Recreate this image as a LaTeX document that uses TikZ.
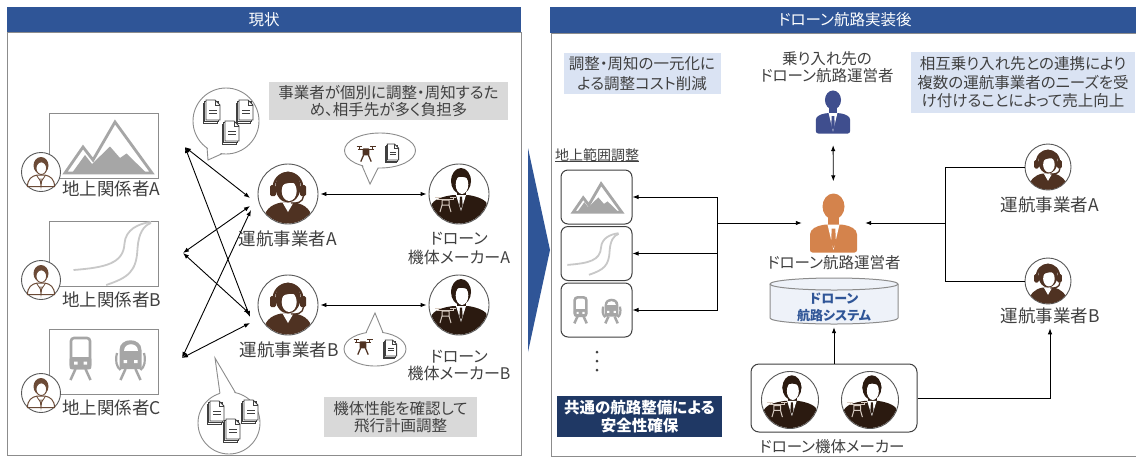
\documentclass[tikz,border=0pt]{standalone}
\usepackage{fontspec}
\setmainfont{Noto Sans CJK JP}[RawFeature={+palt}]
\usetikzlibrary{arrows.meta,calc}

\definecolor{hdr}{HTML}{2F5597}
\definecolor{txt}{HTML}{404040}
\definecolor{frm}{HTML}{8C8C8C}
\definecolor{gbox}{HTML}{D9D9D9}
\definecolor{lbox}{HTML}{DAE3F3}
\definecolor{navy}{HTML}{1F3864}
\definecolor{opbr}{HTML}{4F3222}
\definecolor{mkbr}{HTML}{2B1A10}
\definecolor{stbr}{HTML}{6B4A36}
\definecolor{icg}{HTML}{A6A6A6}
\definecolor{roadc}{HTML}{C8C8C8}
\definecolor{silO}{HTML}{D4834C}
\definecolor{silB}{HTML}{3F4E8E}
\definecolor{cylf}{HTML}{EEF2F9}
\definecolor{ringc}{HTML}{595959}
\definecolor{docl}{HTML}{404040}
\definecolor{drc}{HTML}{D8CCC2}

\newcommand\fsLbl{\fontsize{17.5}{19}\selectfont}
\newcommand\fsBox{\fontsize{15.5}{17.5}\selectfont}

\tikzset{
  lbl/.style={text=txt, font=\fsLbl, inner sep=0pt, align=center},
  notebox/.style={inner sep=0pt, align=center, text=txt, font=\fsBox},
  arr/.style={-{Latex[length=6pt,width=4.5pt]}, line width=0.9pt},
  darr/.style={{Latex[length=6pt,width=4.5pt]}-{Latex[length=6pt,width=4.5pt]}, line width=0.9pt},
  ringnode/.style={circle, draw=ringc, line width=0.9pt, fill=white, inner sep=0pt},
  bub/.style={fill=white, draw=frm, line width=0.9pt},
  frame/.style={draw=frm, line width=1pt},
  gbx/.style={draw=txt, line width=1pt, rounded corners=7pt, minimum width=71pt, minimum height=54pt, inner sep=0pt},
  % operator with headset
  opr/.pic={
    \begin{scope}
      \clip (0,0) circle (29.4);
      \fill[opbr] (-25,31) .. controls (-25,16) and (-17,10.5) .. (-7,8.5) -- (7,8.5) .. controls (17,10.5) and (25,16) .. (25,31) -- cycle;
    \end{scope}
    \fill[white] (-5.5,8.5) -- (0,18) -- (5.5,8.5) -- cycle;
    \fill[opbr] (0,-7) ellipse (12.5 and 15.5);
    \fill[white] (1.2,-3) ellipse (7.5 and 10);
    \fill[opbr] (-7,-8) .. controls (-5,-16) and (5,-17) .. (9,-10) .. controls (6,-12) and (-2,-12) .. (-7,-8) -- cycle;
    \draw[opbr, line width=2.3pt] (-14.5,-3) .. controls (-16,-27) and (16,-27) .. (14.5,-3);
    \fill[opbr, rounded corners=1.5pt] (-18,-9) rectangle (-12,2);
    \fill[opbr, rounded corners=1.5pt] (12,-9) rectangle (18,2);
    \draw[opbr, line width=1.3pt] (15.5,2) .. controls (15,8.5) and (9,9.5) .. (3,9);
  },
  % drone maker in a suit, holding a drone
  mkr/.pic={
    \begin{scope}
      \clip (0,0) circle (29.4);
      \fill[mkbr] (-28,31) -- (-28,12) .. controls (-26,5) and (-16,2.5) .. (-6,1) -- (9,1) .. controls (19,2.5) and (28,6) .. (29,12) -- (29,31) -- cycle;
    \end{scope}
    \fill[mkbr] (-2,-4) rectangle (7,2);
    \fill[white] (-3,1) -- (2,17) -- (7,1) -- cycle;
    \fill[mkbr] (1,2.5) -- (3,2.5) -- (3.6,11) -- (2,15) -- (0.4,11) -- cycle;
    \fill[mkbr] (2,-13) ellipse (10 and 13);
    \fill[white] (3,-9.5) ellipse (6.3 and 9.5);
    \fill[mkbr] (-8,-12) .. controls (-7,-28) and (12,-28) .. (12,-12) .. controls (8,-19) and (-3,-19) .. (-8,-12) -- cycle;
    \draw[drc, line width=1pt] (-22,5) -- (-5,5) (-24,3) -- (-18,3) (-9,3) -- (-3,3) (-21,3) -- (-21,5) (-6,3) -- (-6,5);
    \draw[drc, line width=1pt] (-17,6) rectangle (-10,11) (-17,11) -- (-19,18) (-10,11) -- (-8,18);
  },
  % ground-side stakeholder
  stk/.pic={
    \fill[stbr] (0,-6.5) ellipse (7.5 and 8.5);
    \fill[white] (0.3,-3.8) ellipse (5.3 and 6.3);
    \draw[stbr, line width=0.9pt] (0.3,-3.8) ellipse (5.3 and 6.3);
    \draw[stbr, line width=1pt] (-13.5,14.5) .. controls (-13.5,7) and (-9,4) .. (-4.5,3.2) -- (4.5,3.2) .. controls (9,4) and (13.5,7) .. (13.5,14.5) -- cycle;
    \draw[stbr, line width=0.8pt] (-4.5,3.2) -- (0,10) -- (4.5,3.2) (-1,6.5) -- (0,14.5) -- (1,6.5);
  },
  % stack of documents
  doc/.pic={
    \foreach \d in {3,1.5} {
      \filldraw[fill=white, draw=docl, line width=0.6pt] (-7-\d,-10+\d) rectangle (7-\d,10+\d);
    }
    \filldraw[fill=white, draw=docl, line width=0.9pt] (-7,-10) -- (2,-10) -- (7,-5) -- (7,10) -- (-7,10) -- cycle;
    \draw[docl, line width=0.7pt] (2,-10) -- (2,-5) -- (7,-5);
    \draw[docl, line width=0.9pt] (-4,0.5) -- (4,0.5) (-4,3.5) -- (4,3.5);
  },
  % small drone
  drone/.pic={
    \draw[opbr, line width=1.5pt] (-8,-5) -- (8,-5);
    \draw[opbr, line width=1.6pt] (-10,-8) -- (-4.5,-8) (4.5,-8) -- (10,-8);
    \draw[opbr, line width=1.2pt] (-7.2,-8) -- (-7.2,-5) (7.2,-8) -- (7.2,-5);
    \fill[opbr, rounded corners=1pt] (-3.5,-6) rectangle (3.5,1.5);
    \draw[opbr, line width=1.3pt] (-2.5,1) -- (-5.5,8) (2.5,1) -- (5.5,8);
  },
  % mountains
  mtn/.pic={
    \draw[icg, line width=2.8pt, line join=miter] (-38.5,27.5) -- (-20.5,1.5) -- (-10.5,14.5) -- (11.5,-23.5) -- (48.5,27.5) -- cycle;
    \fill[icg] (-31.5,27.5) -- (-18.5,9.5) -- (-11.5,18.5) -- (6.5,1) -- (16.5,12.5) -- (23,8) -- (43,27.5) -- cycle;
  },
  % winding road
  road/.pic={
    \draw[roadc, line width=1.8pt] (-30,16.5) .. controls (2,14) and (20,10) .. (21,-10) .. controls (22,-24) and (35,-30) .. (47.5,-31.5);
    \draw[roadc, line width=1.8pt] (2.7,31.5) .. controls (25,24) and (33,18) .. (34,-5) .. controls (35,-20) and (40,-28) .. (47.5,-30.5);
  },
  % two railway fronts
  trains/.pic={
    \begin{scope}[shift={(-23,-2.5)}]
      \draw[icg, line width=2.6pt, rounded corners=3pt] (-9.5,-21) rectangle (9.5,9);
      \fill[icg, rounded corners=2pt] (-10.8,-2) rectangle (10.8,10.3);
      \fill[white] (-6.5,2.5) rectangle (-3,5.5) (3,2.5) rectangle (6.5,5.5);
      \draw[icg, line width=2.5pt] (-5,10) -- (-10,21) (5,10) -- (10,21);
    \end{scope}
    \begin{scope}[shift={(27,-2.5)}]
      \fill[icg] (-11,10) -- (-11,-9) .. controls (-11,-22) and (11,-22) .. (11,-9) -- (11,10) -- cycle;
      \fill[white] (-7,-8) .. controls (-7,-17) and (7,-17) .. (7,-8) -- cycle;
      \draw[icg, line width=2.2pt] (-13.5,-6) .. controls (-15.5,2) and (-14,8) .. (-10,11) (13.5,-6) .. controls (15.5,2) and (14,8) .. (10,11);
      \fill[white] (-7,1) rectangle (-3.5,4) (3.5,1) rectangle (7,4);
      \draw[icg, line width=2.5pt] (-5,10) -- (-10,21) (5,10) -- (10,21);
    \end{scope}
  },
  % person silhouette, colour given by the pic options
  sil/.pic={
    \path[pic actions] (0,-16.5) ellipse (11 and 13);
    \path[pic actions] (-5.5,-6) rectangle (5.5,4);
    \path[pic actions, rounded corners=2.5pt] (-23.5,29.5) -- (-23.5,14) .. controls (-23.5,6) and (-17,3) .. (-8,1.5) -- (8,1.5) .. controls (17,3) and (23.5,6) .. (23.5,14) -- (23.5,29.5) -- cycle;
    \fill[white] (-6,1.5) -- (0,27) -- (6,1.5) -- cycle;
    \path[pic actions] (-1.8,5.5) -- (1.8,5.5) -- (2.4,20) -- (0,25) -- (-2.4,20) -- cycle;
  }
}

\begin{document}
\begin{tikzpicture}[x=1pt, y=-1pt, font=\fsBox]
\useasboundingbox (0,0) rectangle (1136,459);
\fill[white] (0,0) rectangle (1136,459);
\begin{scope}
\clip (0,0) rectangle (1136,459);

% ---------------- left panel: current situation ----------------
\draw[frame] (7,32) rectangle (521,455);
\node[fill=hdr, minimum width=514pt, minimum height=25pt, inner sep=0pt, text=white] (hdL) at (264,19.5) {現状};

\node[notebox, fill=gbox, minimum width=239pt, minimum height=38pt] (noteL1) at (388.5,101) {事業者が個別に調整・周知するた\\め、相手先が多く負担多};
\node[notebox, fill=gbox, minimum width=153pt, minimum height=40pt] (noteL2) at (400.5,417) {機体性能を確認して\\飛行計画調整};

% ground stakeholders
\node[frame, minimum width=109pt, minimum height=65pt, inner sep=0pt] (ga) at (103.5,145.5) {};
\pic at (ga.center) {mtn};
\node[frame, minimum width=109pt, minimum height=65pt, inner sep=0pt] (gb) at (103.5,253.5) {};
\pic at (gb.center) {road};
\node[frame, minimum width=109pt, minimum height=65pt, inner sep=0pt] (gc) at (103.5,361.5) {};
\pic at (gc.center) {trains};

\node[ringnode, minimum size=39pt] (pa) at (41,172) {};
\pic at (pa.center) {stk};
\node[ringnode, minimum size=39pt] (pb) at (41,280) {};
\pic at (pb.center) {stk};
\node[ringnode, minimum size=39pt] (pc) at (41,393) {};
\pic at (pc.center) {stk};
\node[lbl, anchor=west] (la) at (62,189) {地上関係者A};
\node[lbl, anchor=west] (lb) at (62,300) {地上関係者B};
\node[lbl, anchor=west] (lc) at (62,408) {地上関係者C};

% operators and makers
\node[ringnode, minimum size=60pt] (opA) at (288,194) {};
\pic at (opA.center) {opr};
\node[lbl] (opAl) at (288,239) {運航事業者A};
\node[ringnode, minimum size=60pt] (opB) at (288,305) {};
\pic at (opB.center) {opr};
\node[lbl] (opBl) at (289,350) {運航事業者B};

\node[ringnode, minimum size=60pt] (mkA) at (459,194) {};
\pic at (mkA.center) {mkr};
\node[lbl, font=\fontsize{16}{19}\selectfont] (mkAl) at (459,248.5) {ドローン\\機体メーカーA};
\node[ringnode, minimum size=60pt] (mkB) at (459,305) {};
\pic at (mkB.center) {mkr};
\node[lbl, font=\fontsize{16}{17.5}\selectfont] (mkBl) at (459,365.5) {ドローン\\機体メーカーB};

\draw[darr, shorten <=2pt, shorten >=2pt] (opA) -- (mkA);
\draw[darr, shorten <=2pt, shorten >=2pt] (opB) -- (mkB);

% many-to-many coordination
\coordinate (L1) at (185,147);
\coordinate (L2) at (183,253);
\coordinate (L3) at (182,358);
\coordinate (a1) at (250,198);
\coordinate (a2) at (250,206);
\coordinate (a3) at (251,210);
\coordinate (b1) at (250,317);
\coordinate (b2) at (250,314);
\coordinate (b3) at (250,323);
\draw[darr] (L1) -- (a1);
\draw[darr] (L1) -- (b1);
\draw[darr] (L2) -- (a2);
\draw[darr] (L2) -- (b2);
\draw[darr] (L3) -- (a3);
\draw[darr] (L3) -- (b3);

% speech bubbles
\node[bub, circle, minimum size=66pt, inner sep=0pt] (bq1) at (226,121) {};
\fill[white] ($(bq1.center)+(97:31.8)$) -- (208,160) -- ($(bq1.center)+(125:31.8)$) -- cycle;
\draw[frm, line width=0.9pt] ($(bq1.center)+(97:33)$) -- (208,160) -- ($(bq1.center)+(125:33)$);
\pic at (213,110) {doc};
\pic at (246,110) {doc};
\pic at (232,131) {doc};

\coordinate (bq2) at (380,150.5);
\draw[bub] (bq2) ellipse (35.5 and 17.5);
\fill[white] ($(bq2)+(93:34 and 16)$) -- (370,184) -- ($(bq2)+(120.5:34 and 16)$) -- cycle;
\draw[frm, line width=0.9pt] ($(bq2)+(93:35.5 and 17.5)$) -- (370,184) -- ($(bq2)+(120.5:35.5 and 17.5)$);
\pic[scale=0.95] at (366,154) {drone};
\pic[scale=0.8] at (393,152) {doc};

\coordinate (bq3) at (375,349);
\draw[bub] (bq3) ellipse (31 and 17);
\fill[white] ($(bq3)+(253:29.5 and 15.5)$) -- (375,313) -- ($(bq3)+(285:29.5 and 15.5)$) -- cycle;
\draw[frm, line width=0.9pt] ($(bq3)+(253:31 and 17)$) -- (375,313) -- ($(bq3)+(285:31 and 17)$);
\pic[scale=0.95] at (363,347) {drone};
\pic[scale=0.8] at (391,348) {doc};

\node[bub, circle, minimum size=62pt, inner sep=0pt] (bq4) at (229,423) {};
\fill[white] ($(bq4.center)+(253:29.8)$) -- (215,358) -- ($(bq4.center)+(282:29.8)$) -- cycle;
\draw[frm, line width=0.9pt] ($(bq4.center)+(253:31)$) -- (215,358) -- ($(bq4.center)+(282:31)$);
\pic at (217,411) {doc};
\pic at (251,410) {doc};
\pic at (233,429) {doc};

% transition arrow
\fill[hdr] (528,148) -- (550,250) -- (528,352) -- cycle;

% ---------------- right panel: with drone routes ----------------
\draw[frame] (551,33) rectangle (1150,456);
\fill[hdr] (550,7) rectangle (1150,33);
\node[text=white, inner sep=0pt] (hdR) at (845,20) {ドローン航路実装後};

\node[notebox, fill=lbox, minimum width=157pt, minimum height=41pt, font=\fontsize{15.5}{20}\selectfont] (noteR1) at (642,73.5) {調整・周知の一元化に\\よる調整コスト削減};
\node[notebox, fill=lbox, minimum width=224pt, minimum height=61pt, font=\fontsize{15.5}{18.5}\selectfont] (noteR2) at (1023,82.5) {相互乗り入れ先との連携により\\複数の運航事業者のニーズを受\\け付けることによって売上向上};
\node[notebox, font=\fontsize{15.5}{17}\selectfont] (peerl) at (827,67) {乗り入れ先の\\ドローン航路運営者};

\node[minimum width=35pt, minimum height=43pt, inner sep=0pt] (peer) at (833,112) {};
\pic[fill=silB, scale=0.73] at (peer.center) {sil};
\node[minimum width=63pt, minimum height=60pt, inner sep=0pt] (rop) at (833.5,223) {};
\pic[fill=silO] at (rop.center) {sil};
\node[lbl, font=\fontsize{15.5}{18}\selectfont] (ropl) at (834,263) {ドローン航路運営者};
\draw[darr, shorten <=11.5pt, shorten >=11.5pt] (peer) -- (rop);

% route system database
\path[fill=cylf, draw=frm, line width=1pt] (770,284) -- (770,318) .. controls (770,321.3) and (798.7,324) .. (834,324) .. controls (869.3,324) and (898,321.3) .. (898,318) -- (898,284);
\draw[frm, line width=1pt, fill=cylf] (834,284) ellipse (64 and 6);
\node[minimum width=128pt, minimum height=46pt, inner sep=0pt] (sys) at (834,301) {};
\node[inner sep=0pt, align=center, text=hdr, font=\bfseries\fontsize{13}{16.5}\selectfont] (syst) at (834,307.5) {ドローン\\航路システム};

% ground-area coordination
\node[anchor=west, inner sep=0pt, text=txt, font=\fontsize{14}{16}\selectfont] (gtitle) at (555,155) {地上範囲調整};
\draw[txt, line width=0.7pt] (gtitle.south west) -- (gtitle.south east);
\node[gbx] (g1) at (596.5,197) {};
\pic[scale=0.56] at (594.7,196.9) {mtn};
\node[gbx] (g2) at (596.5,253.5) {};
\pic[scale=0.66] at (587.2,254) {road};
\node[gbx] (g3) at (596.5,310) {};
\pic[scale=0.62] at (594.8,311.9) {trains};
\fill[txt] (597,352) circle (1.5) (597,361) circle (1.5) (597,370) circle (1.5);

\node[fill=navy, minimum width=165pt, minimum height=41pt, inner sep=0pt, align=center, text=white, font=\bfseries\fontsize{15.5}{18}\selectfont] (safe) at (639.5,416.5) {共通の航路整備による\\安全性確保};

\coordinate (busL) at (717,223);
\draw[arr] (busL) |- (g1);
\draw[arr] (busL) |- (g2);
\draw[arr] (busL) |- (g3);
\draw[arr] (busL) -- (rop);

% operators on the right
\node[ringnode, minimum size=46pt] (opRA) at (1048,167) {};
\pic[scale=0.77] at (opRA.center) {opr};
\node[lbl] (opRAl) at (1050,205) {運航事業者A};
\node[ringnode, minimum size=46pt] (opRB) at (1048,281) {};
\pic[scale=0.77] at (opRB.center) {opr};
\node[lbl] (opRBl) at (1050,316) {運航事業者B};

\coordinate (busR) at (945,223);
\draw[line width=0.9pt] (busR) |- (opRA);
\draw[line width=0.9pt] (busR) |- (opRB);
\draw[arr] (busR) -- (rop);

% drone makers
\node[draw=txt, line width=1pt, rounded corners=8pt, minimum width=166pt, minimum height=68pt, inner sep=0pt] (mk) at (834,398) {};
\node[ringnode, minimum size=57pt] (mk1) at (790,400) {};
\pic[scale=0.95] at (mk1.center) {mkr};
\node[ringnode, minimum size=57pt] (mk2) at (870,400) {};
\pic[scale=0.95] at (mk2.center) {mkr};
\node[lbl, font=\fontsize{15.5}{18}\selectfont] (mkl) at (832,447) {ドローン機体メーカー};

\draw[arr, shorten >=3pt] (mk) -- (sys);
\draw[arr, shorten >=4pt] (mk.east) -| (opRBl.south);
\end{scope}
\end{tikzpicture}
\end{document}
